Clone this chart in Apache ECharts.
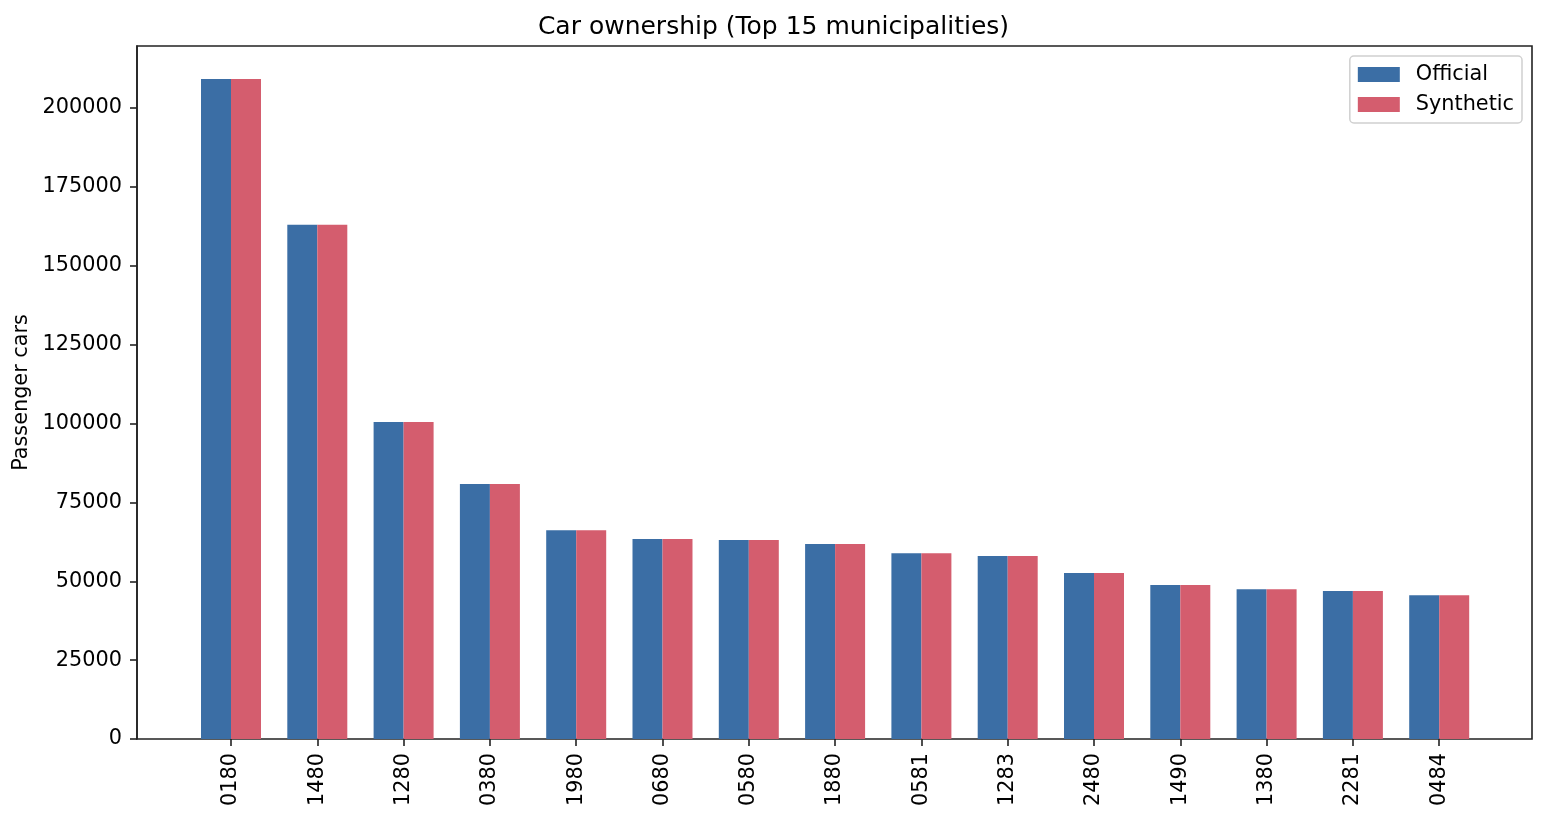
<!DOCTYPE html>
<html>
<head>
<meta charset="utf-8">
<script src="https://cdn.jsdelivr.net/npm/echarts@6/dist/echarts.min.js"></script>
<style>
html,body{margin:0;padding:0;background:#fff;}
#chart{width:1547px;height:822px;}
</style>
</head>
<body>
<div id="chart"></div>
<script>
const categories = ["0180","1480","1280","0380","1980","0680","0580","1880","0581","1283","2480","1490","1380","2281","0484"];
const officialValues = [209200,163000,100500,80800,66200,63400,63100,61800,58900,58000,52600,48800,47500,46900,45600];
const syntheticValues = [209200,163000,100500,80800,66200,63400,63100,61800,58900,58000,52600,48800,47500,46900,45600];
const yTicks = [0,25000,50000,75000,100000,125000,150000,175000,200000];
const yMax = 219660;

const FONT = "DejaVu Sans";
const FS = 20.8;
const chart = echarts.init(document.getElementById('chart'), null, {renderer:'canvas'});
const axisColor = '#222';
const option = {
  animation:false,
  backgroundColor:'#fff',
  title:{
    text:'Car ownership (Top 15 municipalities)',
    left:'center', top:10,
    textStyle:{fontFamily:FONT,fontSize:25,fontWeight:'normal',color:'#000'}
  },
  legend:{
    orient:'vertical', right:25, top:56,
    data:['Official','Synthetic'],
    itemWidth:42, itemHeight:15, itemGap:9,
    padding:[8,8,8,8],
    borderColor:'#d0d0d0', borderWidth:1.5, borderRadius:4,
    backgroundColor:'rgba(255,255,255,0.8)',
    textStyle:{fontFamily:FONT,fontSize:FS,color:'#000',padding:[0,0,0,11]},
    icon:'rect'
  },
  grid:[
    {left:137, top:46, width:1395, height:693, show:true, borderColor:axisColor, borderWidth:1.6, backgroundColor:'transparent'},
    {left:187.85, top:46, width:1294.5, height:693, show:false}
  ],
  xAxis:[
    {type:'value', gridIndex:0, min:0, max:1, axisLine:{show:false}, axisTick:{show:false}, axisLabel:{show:false}, splitLine:{show:false}},
    {type:'category', gridIndex:1, data:categories, boundaryGap:true,
     axisLine:{show:false},
     axisTick:{show:true, alignWithLabel:true, length:7, lineStyle:{color:axisColor,width:1.6}},
     axisLabel:{rotate:90, margin:14, fontFamily:FONT, fontSize:FS, color:'#000', interval:0},
     splitLine:{show:false}}
  ],
  yAxis:[
    {type:'value', gridIndex:0, min:0, max:yMax, interval:25000,
     name:'Passenger cars', nameLocation:'middle', nameGap:100, nameRotate:90,
     nameTextStyle:{fontFamily:FONT,fontSize:FS,color:'#000'},
     axisLine:{show:true,lineStyle:{color:axisColor,width:1.6}},
     axisTick:{show:true,length:7,customValues:yTicks,lineStyle:{color:axisColor,width:1.6}},
     axisLabel:{fontFamily:FONT,fontSize:FS,color:'#000',margin:15,customValues:yTicks,
       formatter:function(v){return String(v);}},
     splitLine:{show:false}},
    {type:'value', gridIndex:1, min:0, max:yMax, show:false}
  ],
  series:[
    {name:'Official', type:'bar', xAxisIndex:1, yAxisIndex:1, data:officialValues,
     barWidth:'34.76%', barGap:'0%', itemStyle:{color:'#3b6ea5'}},
    {name:'Synthetic', type:'bar', xAxisIndex:1, yAxisIndex:1, data:syntheticValues,
     barWidth:'34.76%', barGap:'0%', itemStyle:{color:'#d45d6e'}}
  ]
};
chart.setOption(option);
</script>
</body>
</html>
